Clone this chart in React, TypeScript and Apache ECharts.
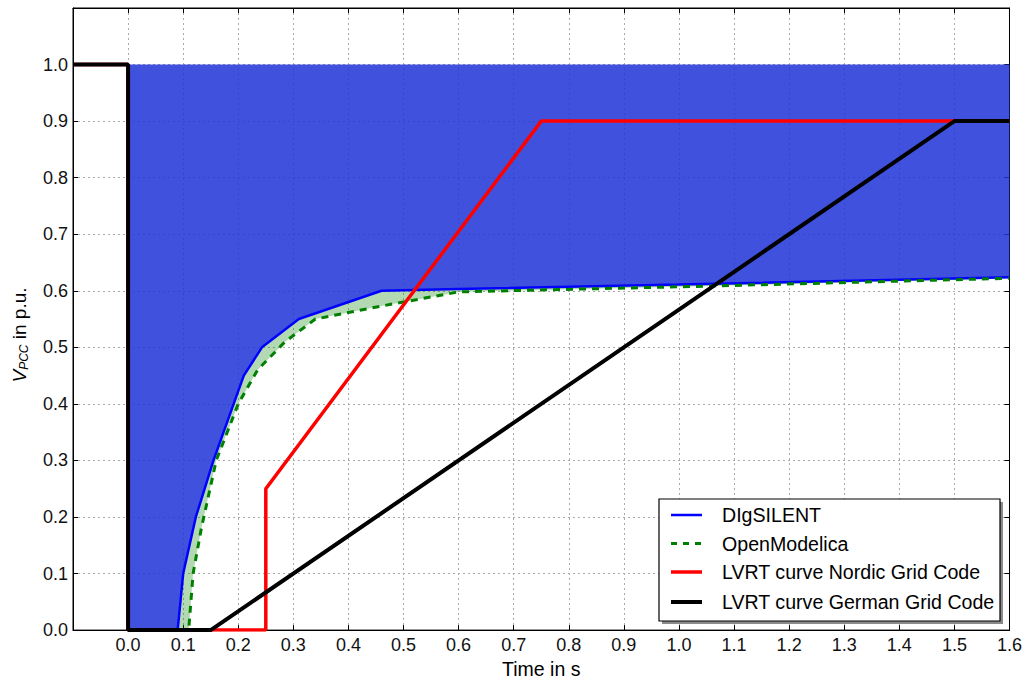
import React, { useEffect, useRef } from "react";
import * as echarts from "echarts";

// Voltage at the point of common coupling, DIgSILENT simulation
const timeDig = [0, 0.09, 0.1, 0.123, 0.155, 0.21, 0.243, 0.31, 0.46, 0.6, 1.0, 1.6];
const vDig = [0, 0, 0.1, 0.2, 0.3, 0.45, 0.5, 0.55, 0.6, 0.603, 0.611, 0.624];

// Same quantity, OpenModelica simulation
const timeOM = [0, 0.11, 0.118, 0.133, 0.16, 0.2, 0.235, 0.285, 0.34, 0.46, 0.6, 1.0, 1.6];
const vOM = [0, 0, 0.1, 0.18, 0.3, 0.4, 0.46, 0.51, 0.55, 0.573, 0.598, 0.607, 0.622];

// LVRT requirement curves
const timeNordic = [-0.1, 0, 0, 0.25, 0.25, 0.75, 1.6];
const vNordic = [1.0, 1.0, 0, 0, 0.25, 0.9, 0.9];
const timeGerman = [-0.1, 0, 0, 0.15, 1.5, 1.6];
const vGerman = [1.0, 1.0, 0, 0, 0.9, 0.9];

// Upper bound of the shaded band
const nominalVoltage = 1.0;

// Axis ranges
const xMin = -0.1;
const xMax = 1.6;
const xStep = 0.1;
const yMin = 0;
const yMax = 1.1;
const yStep = 0.1;

const legendNames = [
  "DIgSILENT",
  "OpenModelica",
  "LVRT curve Nordic Grid Code",
  "LVRT curve German Grid Code",
];

const FONT = "Liberation Sans, Arial, sans-serif";

export default function App() {
  const ref = useRef<HTMLDivElement>(null);

  useEffect(() => {
    const chart = echarts.init(ref.current!, null, { renderer: "svg" });

    const pairs = (t: number[], v: number[]) => t.map((x, i) => [x, v[i]]);
    const digPts = pairs(timeDig, vDig);
    const omPts = pairs(timeOM, vOM);

    // band between the DIgSILENT curve and nominal voltage
    const bluePoly = [
      ...digPts,
      [timeDig[timeDig.length - 1], nominalVoltage],
      [timeDig[0], nominalVoltage],
    ];
    // difference between the two simulations
    const greenPoly = [...digPts, ...omPts.slice().reverse()];

    const polySeries = (name: string, pts: number[][], fill: string) => ({
      type: "custom",
      name,
      silent: true,
      z: 1,
      xAxisIndex: 0,
      yAxisIndex: 0,
      data: [[pts[0][0], pts[0][1]]],
      encode: { x: 0, y: 1 },
      renderItem: (_params: any, api: any) => ({
        type: "polygon",
        shape: { points: pts.map((p) => api.coord(p)) },
        style: { fill, stroke: "none" },
      }),
    });

    const lineDefs = [
      { name: legendNames[0], data: digPts, color: "#0000ff", width: 2.5, type: "solid" as any },
      { name: legendNames[1], data: omPts, color: "#008000", width: 3, type: [7, 6] as any },
      { name: legendNames[2], data: pairs(timeNordic, vNordic), color: "#ff0000", width: 3.5, type: "solid" as any },
      { name: legendNames[3], data: pairs(timeGerman, vGerman), color: "#000000", width: 4, type: "solid" as any },
    ];

    const lineSeries = lineDefs.map((d, i) => ({
      type: "line",
      name: d.name,
      data: d.data,
      showSymbol: false,
      symbol: "none",
      z: 3 + i,
      xAxisIndex: 0,
      yAxisIndex: 0,
      lineStyle: { color: d.color, width: d.width, type: d.type },
      silent: true,
    }));

    const fmt = (v: number, hide: number) =>
      Math.abs(v - hide) < 1e-6 ? "" : v.toFixed(1);

    const baseX = {
      type: "value",
      min: xMin,
      max: xMax,
      interval: xStep,
      axisLine: { show: true, onZero: false, lineStyle: { color: "#000", width: 1 } },
      axisTick: { show: true, inside: true, length: 5, lineStyle: { color: "#000" } },
    };
    const baseY = {
      type: "value",
      min: yMin,
      max: yMax,
      interval: yStep,
      axisLine: { show: true, onZero: false, lineStyle: { color: "#000", width: 1 } },
      axisTick: { show: true, inside: true, length: 5, lineStyle: { color: "#000" } },
    };

    // legend box drawn with graphic elements
    const legX = 659;
    const legY = 499;
    const legW = 341;
    const legH = 122;
    const rowY = [515, 543.5, 572, 602];
    const legendGraphics: any[] = [
      {
        type: "rect",
        shape: { x: legX + 3, y: legY + 3, width: legW, height: legH },
        style: { fill: "#8a8a8a" },
        z: 100,
      },
      {
        type: "rect",
        shape: { x: legX, y: legY, width: legW, height: legH },
        style: { fill: "#ffffff", stroke: "#000", lineWidth: 1.2 },
        z: 101,
      },
    ];
    lineDefs.forEach((d, i) => {
      legendGraphics.push({
        type: "line",
        shape: { x1: 671, y1: rowY[i], x2: 702, y2: rowY[i] },
        style: {
          stroke: d.color,
          lineWidth: d.width,
          lineDash: Array.isArray(d.type) ? [6, 6] : null,
        },
        z: 102,
      });
      legendGraphics.push({
        type: "text",
        x: 722,
        y: rowY[i],
        style: {
          text: d.name,
          fill: "#000",
          font: `19.6px ${FONT}`,
          verticalAlign: "middle",
          align: "left",
        },
        z: 102,
      });
    });

    // y-axis title with subscript
    legendGraphics.push({
      type: "text",
      x: 19,
      y: 335,
      rotation: Math.PI / 2,
      style: {
        text: "{v|V}{s|PCC}{n| in p.u.}",
        align: "center",
        verticalAlign: "middle",
        rich: {
          v: { fontFamily: FONT, fontSize: 19, fontStyle: "italic", fill: "#000", lineHeight: 22 },
          s: {
            fontFamily: FONT,
            fontSize: 12,
            fontStyle: "italic",
            fill: "#000",
            lineHeight: 13,
            verticalAlign: "bottom",
          },
          n: { fontFamily: FONT, fontSize: 19, fill: "#000", lineHeight: 22 },
        },
      },
      z: 100,
    });

    chart.setOption({
      animation: false,
      backgroundColor: "#ffffff",
      textStyle: { fontFamily: FONT },
      grid: {
        left: 73,
        top: 8,
        width: 937,
        height: 623.5,
        show: true,
        borderColor: "#000",
        borderWidth: 1,
        backgroundColor: "transparent",
      },
      xAxis: [
        {
          ...baseX,
          position: "bottom",
          name: "Time in s",
          nameLocation: "middle",
          nameGap: 28,
          nameTextStyle: { fontSize: 19.5, color: "#000", fontFamily: FONT },
          axisLabel: {
            fontSize: 18,
            color: "#111",
            margin: 6,
            fontFamily: FONT,
            formatter: (v: number) => fmt(v, xMin),
          },
          splitLine: { show: true, lineStyle: { color: "#aaaaaa", type: [2, 3], width: 1 } },
        },
        {
          ...baseX,
          position: "top",
          axisLabel: { show: false },
          splitLine: { show: false },
        },
      ],
      yAxis: [
        {
          ...baseY,
          position: "left",
          axisLabel: {
            fontSize: 18,
            color: "#111",
            margin: 5,
            fontFamily: FONT,
            formatter: (v: number) => fmt(v, yMax),
          },
          splitLine: { show: true, lineStyle: { color: "#aaaaaa", type: [2, 3], width: 1 } },
        },
        {
          ...baseY,
          position: "right",
          axisLabel: { show: false },
          splitLine: { show: false },
        },
      ],
      graphic: legendGraphics,
      series: [
        polySeries("band", bluePoly, "rgba(33,53,215,0.86)"),
        polySeries("difference", greenPoly, "rgba(0,128,0,0.3)"),
        ...lineSeries,
      ],
    } as any);

    return () => chart.dispose();
  }, []);

  return (
    <div
      ref={ref}
      style={{ position: "fixed", left: 0, top: 0, width: 1025, height: 684 }}
    />
  );
}
